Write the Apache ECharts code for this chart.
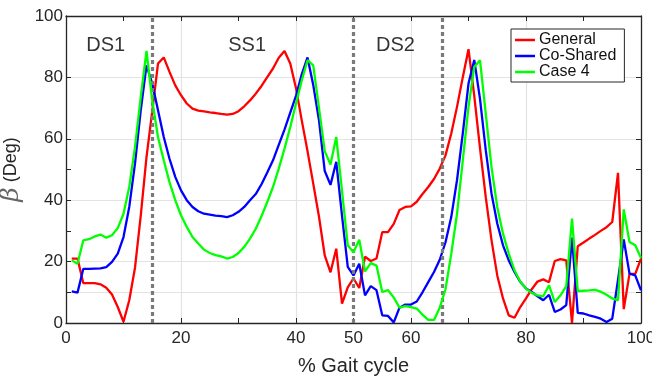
<!DOCTYPE html>
<html>
<head>
<meta charset="utf-8">
<script src="https://cdn.jsdelivr.net/npm/echarts@6/dist/echarts.min.js"></script>
<style>
html,body{margin:0;padding:0;background:#fff;}
#chart{width:652px;height:376px;}
</style>
</head>
<body>
<div id="chart"></div>
<script>
// ---- data (% gait cycle, beta in degrees) ----
const gaitPct = Array.from({length: 100}, (_, i) => i + 1);

const seriesNames = ['General', 'Co-Shared', 'Case 4'];

const general = [
  21, 21, 13, 13, 13, 12.6, 11.5, 9.3, 5.2, 0.4,
  7.4, 18, 35, 54, 69, 84.5, 86.5, 81.8, 77.4, 74.2,
  71.5, 69.8, 69.2, 68.9, 68.6, 68.4, 68.1, 67.9, 68.1, 69,
  70.6, 72.5, 74.7, 77.2, 80.1, 82.9, 86.4, 88.6, 84.5, 76.5,
  66, 56, 45.4, 34.6, 22, 16.5, 24.2, 6.3, 11.6, 14.5,
  11.4, 21.6, 20.2, 21, 29.6, 29.6, 32.3, 36.8, 37.8, 38,
  39.5, 42, 44.3, 46.9, 50.3, 54.6, 61.7, 70.4, 80, 89.2,
  74, 57, 41, 27, 15.5, 8, 2.5, 1.7, 5.2, 8,
  11, 13.5, 14.2, 13.3, 20.2, 20.8, 20.4, 0, 25, 26.2,
  27.5, 28.7, 30, 31.2, 32.9, 48.9, 4.5, 16, 16, 21
];

const coShared = [
  10.3, 9.9, 17.6, 17.6, 17.7, 17.8, 18.2, 19.9, 22.6, 28,
  37.8, 51.9, 69.3, 83.9, 78, 69.3, 60.6, 53.5, 47.6, 43.2,
  40, 37.8, 36.4, 35.6, 35.3, 35, 34.8, 34.5, 35.1, 36.2,
  37.8, 40, 42, 45.2, 49, 53, 58, 63, 68.5, 74,
  81, 86.5, 77.5, 66, 49.5, 45, 52.5, 35, 18.3, 15.5,
  19.3, 9, 12, 10.7, 2.5, 2.3, 0.2, 5, 6, 6,
  7, 10, 13.3, 16.6, 20.6, 26.3, 34.5, 46.5, 61.7, 78,
  85.7, 73, 56.3, 42.2, 32.4, 25.3, 20.4, 16.6, 13.4, 11.2,
  10.1, 8.7, 7.4, 9.2, 3.6, 4.4, 5.8, 27.8, 3.3, 3.1,
  2.5, 2, 1.4, 0.3, 1.4, 14, 27.2, 16.1, 15.5, 10.6
];

const case4 = [
  20.4, 19.3, 26.9, 27.3, 28.2, 28.8, 27.8, 28.6, 30.9, 35.6,
  44.3, 57.3, 73.6, 88.6, 72.5, 60.5, 53, 45.9, 40, 35.1,
  31.3, 28, 25.9, 23.9, 22.8, 22.1, 21.7, 21, 21.5, 22.8,
  24.8, 27.5, 30.7, 34.8, 39.4, 44.3, 50.3, 56.8, 63.8, 71.5,
  79, 85.6, 83.9, 70, 56, 51.6, 60.6, 43, 25.3, 23,
  27.1, 16.8, 19.5, 18.7, 10.1, 10.7, 8.3, 5, 5.5, 5.2,
  4.7, 2.7, 1, 1, 5, 11, 22.5, 35.5, 52.8, 70.4,
  83.4, 85.6, 68.2, 50.8, 37.8, 29.1, 22.6, 17.2, 13.4, 11.2,
  9.8, 9, 8.7, 12.3, 6.8, 9, 12, 34, 10.4, 10.5,
  10.6, 10.8, 10.2, 9.2, 8, 7.4, 37, 26.4, 25.3, 21.2
];

// phase boundaries and phase labels
const phaseBounds = [15, 50, 65.5];
const phaseLabels = ['DS1', 'SS1', 'DS2'];
const phaseLabelX = [6.9, 31.5, 57.3];
const phaseLabelY = [90.3, 90.3, 90.3];

// axis ticks / labels
const xTicks = [0, 10, 20, 30, 40, 50, 60, 70, 80, 90, 100];
const xTickLabels = [0, 20, 40, 50, 60, 80, 100];
const xGrid = [20, 40, 60, 80];
const yTicks = [0, 10, 20, 30, 40, 50, 60, 80, 100];
const yTickLabels = [0, 20, 40, 60, 80, 100];
const yGrid = [10, 20, 40, 60, 80];

const colors = ['#ff0000', '#0000ff', '#00ff00'];
const FONT = 'Liberation Sans, Arial, Helvetica, sans-serif';
const INK = '#262626';

const pair = (arr) => arr.map((v, i) => [gaitPct[i], v]);

const chart = echarts.init(document.getElementById('chart'), null, {renderer: 'canvas'});

const baseX = (pos) => ({
  type: 'value', min: 0, max: 100, position: pos,
  axisLine: {show: true, onZero: false, lineStyle: {color: INK, width: 1.3}},
  axisTick: {show: true, inside: true, length: 5, customValues: xTicks, lineStyle: {color: INK, width: 1}},
  splitLine: {show: false}
});
const baseY = (pos) => ({
  type: 'value', min: 0, max: 100, position: pos,
  axisLine: {show: true, onZero: false, lineStyle: {color: INK, width: 1.3}},
  axisTick: {show: true, inside: true, length: 5, customValues: yTicks, lineStyle: {color: INK, width: 1}},
  splitLine: {show: false}
});

const xBottom = Object.assign(baseX('bottom'), {
  name: '% Gait cycle', nameLocation: 'middle', nameGap: 33,
  nameTextStyle: {fontFamily: FONT, fontSize: 20, color: INK},
  axisLabel: {show: true, customValues: xTickLabels, margin: 7, fontFamily: FONT, fontSize: 17, color: INK}
});
const xTop = Object.assign(baseX('top'), {axisLabel: {show: false}});
const xGridAxis = {
  type: 'value', min: 0, max: 100, position: 'bottom',
  axisLine: {show: false}, axisLabel: {show: false},
  axisTick: {show: false, customValues: xGrid},
  splitLine: {show: true, lineStyle: {color: '#e3e3e3', width: 1.2}}
};

const yLeft = Object.assign(baseY('left'), {
  name: '{b|β} (Deg)', nameLocation: 'middle', nameGap: 38, nameRotate: 90,
  nameTextStyle: {fontFamily: FONT, fontSize: 18, color: INK,
    rich: {b: {fontFamily: 'DejaVu Serif', fontStyle: 'italic', fontSize: 25, color: '#666'}}},
  axisLabel: {show: true, customValues: yTickLabels, margin: 3, fontFamily: FONT, fontSize: 17, color: INK}
});
const yRight = Object.assign(baseY('right'), {axisLabel: {show: false}});
const yGridAxis = {
  type: 'value', min: 0, max: 100, position: 'left',
  axisLine: {show: false}, axisLabel: {show: false},
  axisTick: {show: false, customValues: yGrid},
  splitLine: {show: true, lineStyle: {color: '#e3e3e3', width: 1.2}}
};

const lineSeries = [general, coShared, case4].map((arr, k) => ({
  name: seriesNames[k], type: 'line', xAxisIndex: 0, yAxisIndex: 0,
  data: pair(arr), symbol: 'none', showSymbol: false, smooth: false,
  lineStyle: {color: colors[k], width: 2.3}, itemStyle: {color: colors[k]},
  z: 3 + k, animation: false
}));

const option = {
  animation: false,
  backgroundColor: '#ffffff',
  grid: {left: 66, right: 11, top: 16, bottom: 53, containLabel: false, outerBoundsMode: 'none'},
  xAxis: [xBottom, xTop, xGridAxis],
  yAxis: [yLeft, yRight, yGridAxis],
  legend: {
    data: seriesNames, orient: 'vertical', left: 511, top: 29,
    padding: [3, 8, 2, 4], itemGap: 0, itemWidth: 20, itemHeight: 16,
    backgroundColor: '#ffffff', borderColor: INK, borderWidth: 1, borderRadius: 0,
    textStyle: {fontFamily: FONT, fontSize: 16, color: '#111', lineHeight: 16, padding: [0, 0, 0, -1]},
    icon: 'path://M0,7 L20,7 L20,9.5 L0,9.5 Z'
  },
  series: lineSeries.concat([
    {
      name: 'phases', type: 'line', xAxisIndex: 0, yAxisIndex: 0, data: [],
      z: 10, silent: true,
      markLine: {
        silent: true, symbol: ['none', 'none'], animation: false,
        label: {show: false},
        lineStyle: {color: '#7a7a7a', width: 3.2, type: [4, 3]},
        data: phaseBounds.map(v => ({xAxis: v}))
      }
    },
    {
      name: 'phaseLabels', type: 'scatter', xAxisIndex: 0, yAxisIndex: 0,
      symbolSize: 0, silent: true, z: 11,
      data: phaseLabels.map((t, i) => [phaseLabelX[i], phaseLabelY[i], t]),
      label: {show: true, position: 'inside', formatter: p => p.data[2],
        fontFamily: FONT, fontSize: 20, color: '#000'}
    }
  ])
};
chart.setOption(option);
</script>
</body>
</html>
